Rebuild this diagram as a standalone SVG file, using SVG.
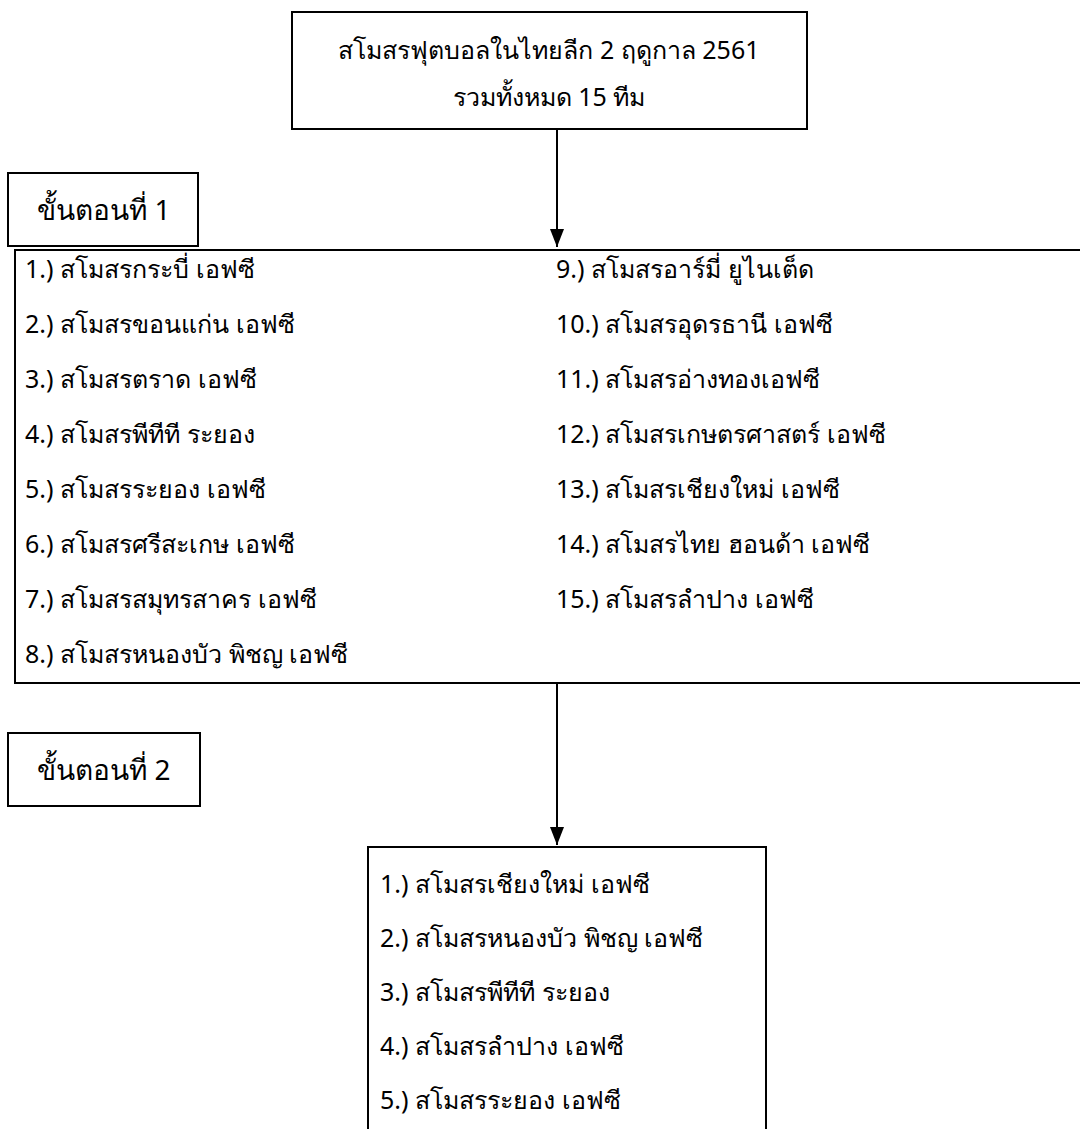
<svg xmlns="http://www.w3.org/2000/svg" width="1080" height="1129" viewBox="0 0 1080 1129">
<defs>
<style>
.box{fill:#fff;stroke:#000;stroke-width:2}
.t{font-family:"Noto Sans","DejaVu Sans","Liberation Sans",sans-serif;font-size:25px;fill:#000}
.s{font-size:28px}
.c{text-anchor:middle}
.ln{stroke:#000;stroke-width:2;fill:none}
</style>
<marker id="ah" markerWidth="18" markerHeight="14" refX="18" refY="7" orient="auto" markerUnits="userSpaceOnUse" viewBox="0 0 18 14">
<path d="M0,0 L18,7 L0,14 Z" fill="#000"/>
</marker>
</defs>
<rect width="1080" height="1129" fill="#fff"/>
<g id="title">
<rect class="box" x="292" y="12" width="515" height="117"/>
<text class="t c" x="549" y="59">สโมสรฟุตบอลในไทยลีก 2 ฤดูกาล 2561</text>
<text class="t c" x="549" y="106">รวมทั้งหมด 15 ทีม</text>
</g>
<g id="step1">
<rect class="box" x="8" y="173" width="190" height="73"/>
<text class="t s c" x="104" y="220">ขั้นตอนที่ 1</text>
</g>
<g id="list1">
<rect class="box" x="15" y="250" width="1080" height="433"/>
<text class="t" x="25" y="278">1.) สโมสรกระบี่ เอฟซี</text>
<text class="t" x="25" y="333">2.) สโมสรขอนแก่น เอฟซี</text>
<text class="t" x="25" y="388">3.) สโมสรตราด เอฟซี</text>
<text class="t" x="25" y="443">4.) สโมสรพีทีที ระยอง</text>
<text class="t" x="25" y="498">5.) สโมสรระยอง เอฟซี</text>
<text class="t" x="25" y="553">6.) สโมสรศรีสะเกษ เอฟซี</text>
<text class="t" x="25" y="608">7.) สโมสรสมุทรสาคร เอฟซี</text>
<text class="t" x="25" y="663">8.) สโมสรหนองบัว พิชญ เอฟซี</text>
<text class="t" x="556" y="278">9.) สโมสรอาร์มี่ ยูไนเต็ด</text>
<text class="t" x="556" y="333">10.) สโมสรอุดรธานี เอฟซี</text>
<text class="t" x="556" y="388">11.) สโมสรอ่างทองเอฟซี</text>
<text class="t" x="556" y="443">12.) สโมสรเกษตรศาสตร์ เอฟซี</text>
<text class="t" x="556" y="498">13.) สโมสรเชียงใหม่ เอฟซี</text>
<text class="t" x="556" y="553">14.) สโมสรไทย ฮอนด้า เอฟซี</text>
<text class="t" x="556" y="608">15.) สโมสรลำปาง เอฟซี</text>
</g>
<g id="step2">
<rect class="box" x="8" y="733" width="192" height="73"/>
<text class="t s c" x="104" y="780">ขั้นตอนที่ 2</text>
</g>
<g id="list2">
<rect class="box" x="368" y="847" width="398" height="300"/>
<text class="t" x="380" y="893">1.) สโมสรเชียงใหม่ เอฟซี</text>
<text class="t" x="380" y="947">2.) สโมสรหนองบัว พิชญ เอฟซี</text>
<text class="t" x="380" y="1001">3.) สโมสรพีทีที ระยอง</text>
<text class="t" x="380" y="1055">4.) สโมสรลำปาง เอฟซี</text>
<text class="t" x="380" y="1109">5.) สโมสรระยอง เอฟซี</text>
</g>
<g id="connectors">
<line class="ln" x1="557" y1="129" x2="557" y2="247" marker-end="url(#ah)"/>
<line class="ln" x1="557" y1="683" x2="557" y2="845" marker-end="url(#ah)"/>
</g>
</svg>
